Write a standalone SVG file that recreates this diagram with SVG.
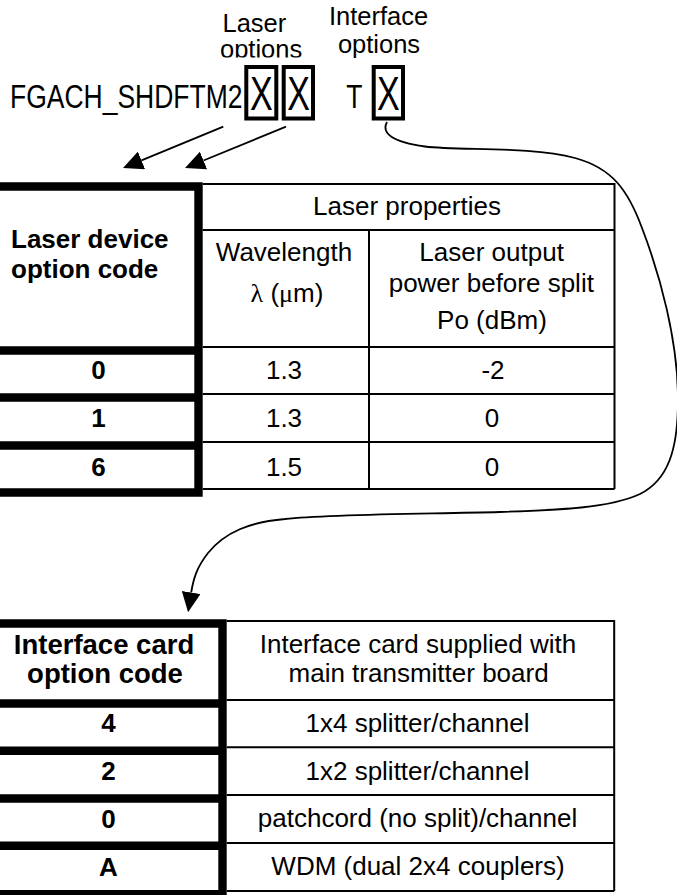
<svg xmlns="http://www.w3.org/2000/svg" width="677" height="895" viewBox="0 0 677 895">
  <defs>
    <style>
      text { font-family: "Liberation Sans", Arial, Helvetica, sans-serif; fill: #000; }
      .lbl { font-size: 25.5px; }
      .code { font-size: 26.5px; }
      .big { font-size: 34px; text-anchor: middle; }
      .t { font-size: 26px; text-anchor: middle; }
      .hd { font-size: 26px; font-weight: bold; }
      .hd2 { font-size: 27.5px; font-weight: bold; text-anchor: middle; }
      .b { font-weight: bold; }
      .sym { font-family: "Liberation Serif", "DejaVu Serif", serif; }
      .thin { fill: none; stroke: #000; stroke-width: 2; }
      .thick { fill: none; stroke: #000; stroke-width: 8.4; }
      .box { fill: none; stroke: #000; stroke-width: 4; }
      .conn { fill: none; stroke: #000; stroke-width: 1.8; }
    </style>
    <marker id="arrow" markerUnits="userSpaceOnUse" markerWidth="20" markerHeight="19"
            viewBox="0 0 20 19" refX="0" refY="9.5" orient="auto">
      <path d="M0,0 L20,9.5 L0,19 z" fill="#000"/>
    </marker>
    <clipPath id="laser-opt-clip">
      <rect x="200" y="0" width="120" height="57.5"/>
    </clipPath>
  </defs>

  <!-- ordering code with option placeholders -->
  <g id="code-string">
    <text class="lbl" x="222.5" y="31.7">Laser</text>
    <text class="lbl" x="220" y="58" clip-path="url(#laser-opt-clip)">options</text>
    <text class="lbl" x="378.5" y="25" text-anchor="middle">Interface</text>
    <text class="lbl" x="379" y="53.3" text-anchor="middle">options</text>

    <text class="code" transform="translate(10,108.3) scale(1,1.22)">FGACH_SHDFTM2</text>
    <text class="code" transform="translate(346.2,108.3) scale(1,1.22)">T</text>

    <rect class="box" x="246.3" y="67" width="30" height="51.5"/>
    <rect class="box" x="283.7" y="67" width="29.3" height="51.5"/>
    <rect class="box" x="373.7" y="67" width="29.3" height="51.5"/>
    <text class="big" transform="translate(261.3,110) scale(1,1.4)">X</text>
    <text class="big" transform="translate(298.5,110) scale(1,1.4)">X</text>
    <text class="big" transform="translate(388.3,110) scale(1,1.4)">X</text>
  </g>

  <!-- laser device options table -->
  <g id="laser-table">
    <path class="thin" d="M202.7,184 H614.5 V489 M202.7,230 H614.5 M202.7,347 H614.5 M202.7,394 H614.5 M202.7,442 H614.5 M202.7,489 H614.5 M369,230 V489"/>
    <path class="thick" d="M-2,186.5 H202.7 M-2,350.5 H202.7 M-2,397.5 H202.7 M-2,445.5 H202.7 M-2,492.5 H202.7 M198.5,182.3 V496.7"/>

    <text class="hd" x="11" y="247.5">Laser device</text>
    <text class="hd" x="11" y="278">option code</text>

    <text class="t" x="407" y="215">Laser properties</text>
    <text class="t" x="284" y="260.7">Wavelength</text>
    <text class="t" x="287" y="302"><tspan class="sym">λ</tspan> (<tspan class="sym">μ</tspan>m)</text>
    <text class="t" x="491.6" y="260.7">Laser output</text>
    <text class="t" x="491.3" y="291.7">power before split</text>
    <text class="t" x="492" y="329.3">Po (dBm)</text>

    <text class="t b" x="98.5" y="379">0</text>
    <text class="t" x="284" y="379">1.3</text>
    <text class="t" x="493" y="379">-2</text>

    <text class="t b" x="98.5" y="427.3">1</text>
    <text class="t" x="284" y="427.3">1.3</text>
    <text class="t" x="492" y="427.3">0</text>

    <text class="t b" x="98.5" y="475.7">6</text>
    <text class="t" x="284" y="475.7">1.5</text>
    <text class="t" x="492" y="475.7">0</text>
  </g>

  <!-- interface card options table -->
  <g id="interface-table">
    <path class="thin" d="M226.7,621 H614.2 V891 M226.7,700 H614.2 M226.7,747.3 H614.2 M226.7,795 H614.2 M226.7,843 H614.2 M226.7,891 H614.2"/>
    <path class="thick" d="M-2,623.5 H226.7 M-2,703.5 H226.7 M-2,750.8 H226.7 M-2,798.5 H226.7 M-2,845.8 H226.7 M-2,894.3 H226.7 M222.5,619.3 V899"/>

    <text class="hd2" x="104" y="654">Interface card</text>
    <text class="hd2" x="105" y="683">option code</text>

    <text class="t" x="418" y="652.5">Interface card supplied with</text>
    <text class="t" x="418.6" y="681.5">main transmitter board</text>

    <text class="t b" x="108.5" y="731.7">4</text>
    <text class="t" x="417.5" y="731.7">1x4 splitter/channel</text>

    <text class="t b" x="108.5" y="780">2</text>
    <text class="t" x="417.5" y="779.5">1x2 splitter/channel</text>

    <text class="t b" x="108.5" y="828">0</text>
    <text class="t" x="417.5" y="827">patchcord (no split)/channel</text>

    <text class="t b" x="108.5" y="876">A</text>
    <text class="t" x="418" y="875.2">WDM (dual 2x4 couplers)</text>
  </g>

  <!-- connectors -->
  <g id="connectors">
    <path class="conn" d="M223.3,126.7 L141.5,160.4" marker-end="url(#arrow)"/>
    <path class="conn" d="M286,126.7 L203.5,160.5" marker-end="url(#arrow)"/>
    <path class="conn" d="M387,122 C381,133 392,142 425,146.5 C460,151 530,146 575,158 C612,168 628,190 642,228 C660,275 678,340 678,400 C678,450 668,480 640,494 C610,508 560,510 500,512 C420,514 330,514 285,519 C250,522 225,532 208,553 C197,567 193.5,578 191.2,592.5" marker-end="url(#arrow)"/>
  </g>
</svg>
